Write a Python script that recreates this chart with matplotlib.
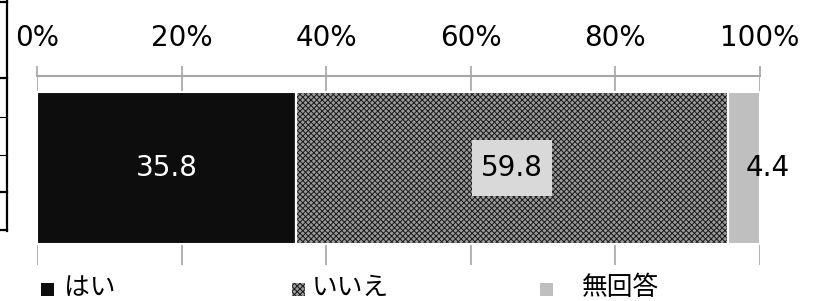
import matplotlib
matplotlib.use("Agg")
import matplotlib.pyplot as plt
from matplotlib.patches import Rectangle
from matplotlib.lines import Line2D

plt.rcParams['font.family'] = ['DejaVu Sans', 'Noto Sans CJK JP']
plt.rcParams['hatch.linewidth'] = 0.7

categories = ['はい', 'いいえ', '無回答']
values = [35.8, 59.8, 4.4]
tick_values = [0, 20, 40, 60, 80, 100]
tick_labels = ['0%', '20%', '40%', '60%', '80%', '100%']

colors = ['#0d0d0d', '#9a9a9a', '#bfbfbf']
hatches = [None, 'xxxxxx', None]
hatch_colors = ['#0d0d0d', '#1a1a1a', '#bfbfbf']

W, H = 819, 301
fig = plt.figure(figsize=(W / 100, H / 100), dpi=100)

def fx(px):
    return px / W

def fy(py):
    return 1 - py / H

ax = fig.add_axes([fx(37), fy(265), fx(760) - fx(37), fy(76) - fy(265)])
ax.set_xlim(0, 100)
ax.set_ylim(0, 1)

bar_y, bar_h = 0.513, 0.804
left = 0
bars = []
for cat, v, c, h, hc in zip(categories, values, colors, hatches, hatch_colors):
    b = ax.barh(bar_y, v, height=bar_h, left=left, color=c, edgecolor='white',
                linewidth=1.5, zorder=3)
    if h:
        for p in b:
            p.set_hatch(h)
            p._hatch_color = matplotlib.colors.to_rgba(hc)
        ax.barh(bar_y, v, height=bar_h, left=left, color='none', edgecolor='white',
                linewidth=1.5, zorder=4)
    bars.append((left, v))
    left += v

# data labels
l0, v0 = bars[0]
ax.text(l0 + v0 / 2, bar_y, f'{values[0]:.1f}', ha='center', va='center',
        color='white', fontsize=20, zorder=5)
l1, v1 = bars[1]
cx = l1 + v1 / 2
box_w, box_h = 11.2, 0.30
ax.add_patch(Rectangle((cx - box_w / 2, bar_y - box_h / 2), box_w, box_h,
                       facecolor='#d9d9d9', edgecolor='none', zorder=5))
ax.text(cx, bar_y, f'{values[1]:.1f}', ha='center', va='center',
        color='black', fontsize=20, zorder=6)
l2, v2 = bars[2]
ax.text(l2 + v2 + 1.0, bar_y, f'{values[2]:.1f}', ha='center', va='center',
        color='black', fontsize=20, zorder=5)

# axis styling
ax.xaxis.tick_top()
ax.set_xticks(tick_values)
ax.set_xticklabels(tick_labels, fontsize=20)
ax.tick_params(axis='x', direction='out', length=7.2, width=1.2, color='#a6a6a6',
               pad=10, labelcolor='black')
ax.set_yticks([])
for s in ['left', 'right', 'bottom']:
    ax.spines[s].set_visible(False)
ax.spines['top'].set_color('#a6a6a6')
ax.spines['top'].set_linewidth(1.5)
ax.grid(axis='x', color='#a6a6a6', linewidth=1.2, zorder=0)
ax.set_axisbelow(True)
ax.patch.set_alpha(0)

# legend (manual layout)
marker_x = [41, 292, 540]
text_x = [64, 312, 582]
for cat, c, h, hc, mx, tx in zip(categories, colors, hatches, hatch_colors, marker_x, text_x):
    r = Rectangle((fx(mx), fy(296)), fx(13), fy(283) - fy(296), transform=fig.transFigure,
                  facecolor=c, edgecolor='none', hatch=h)
    if h:
        r._hatch_color = matplotlib.colors.to_rgba(hc)
    fig.add_artist(r)
    fig.text(fx(tx), fy(288), cat, ha='left', va='center', fontsize=18.5, color='black',
             family=['Noto Sans CJK JP', 'DejaVu Sans'])

# cropped table border at the left edge
def fline(x0, y0, x1, y1, lw):
    fig.add_artist(Line2D([fx(x0), fx(x1)], [fy(y0), fy(y1)], transform=fig.transFigure,
                          color='black', linewidth=lw))

fline(7, 0, 7, 231, 1.6)
fline(0, 2, 7, 2, 1.6)
fline(0, 78, 7, 78, 1.6)
fline(0, 117, 7, 117, 0.8)
fline(0, 155, 7, 155, 0.8)
fline(0, 192, 7, 192, 1.6)
fline(0, 230, 7, 230, 1.6)

fig.savefig('out.png', dpi=100)
